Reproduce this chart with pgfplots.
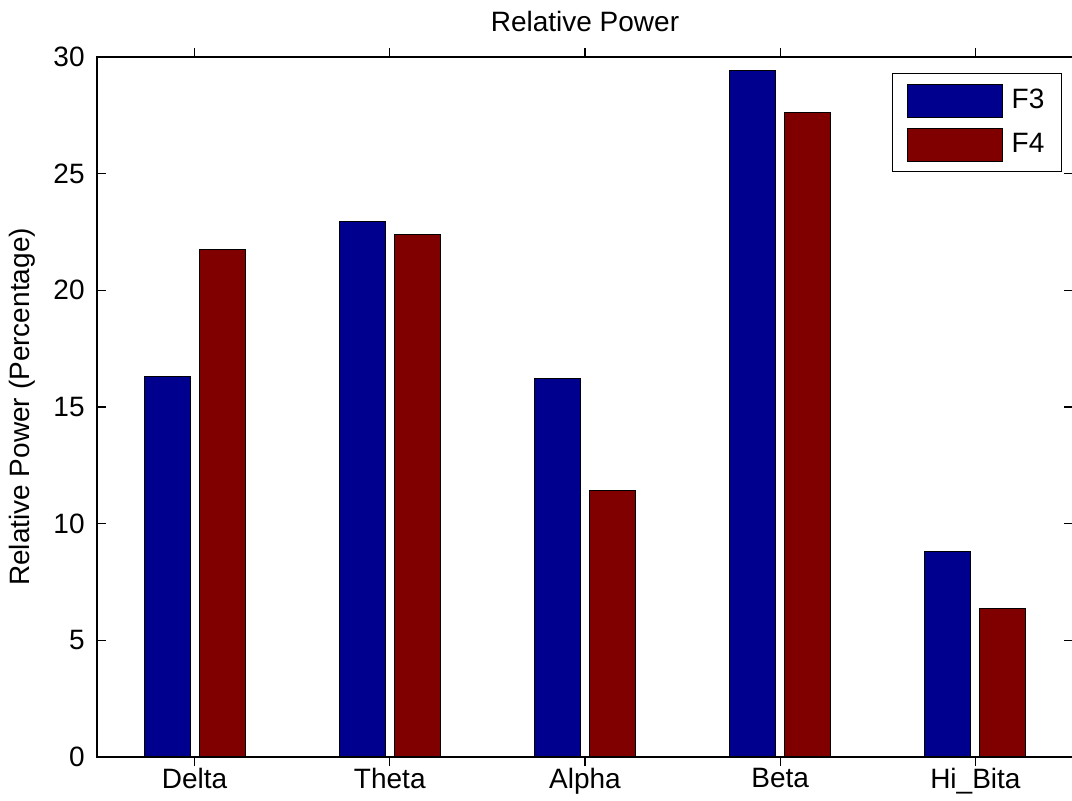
\documentclass[border=0pt]{standalone}
\usepackage{fontspec}
\setmainfont{Liberation Sans}
\usepackage{pgfplots}
\pgfplotsset{compat=1.18}
\definecolor{mblue}{rgb}{0,0,0.5625}
\definecolor{mred}{rgb}{0.5,0,0}
\begin{document}
\begin{tikzpicture}
\begin{axis}[
  scale only axis,
  width=488pt, height=350pt,
  xmin=0.5, xmax=5.5, ymin=0, ymax=30,
  xtick={1,2,3,4,5},
  xticklabels={Delta,Theta,Alpha,Beta,Hi\_Bita},
  ytick={0,5,10,15,20,25,30},
  tick align=inside,
  major tick length=4.5pt,
  tick style={black, line width=0.6pt},
  axis line style={line width=0.6pt},
  /pgf/number format/assume math mode=true,
  font=\fontsize{14}{16}\selectfont,
  yticklabel style={inner sep=0pt, xshift=-6pt},
  xticklabel style={inner sep=0pt, yshift=-1pt},
  title={Relative Power},
  title style={at={(axis description cs:0.5,1)}, anchor=base, yshift=6.5pt, inner sep=0pt},
  ylabel={Relative Power (Percentage)},
  ylabel style={at={(axis description cs:-0.0768,0.5)}, anchor=center, rotate=0},
  ybar=4.5pt,
  bar width=23pt,
  legend style={at={(axis description cs:1,1)}, anchor=north east, xshift=-5.5pt, yshift=-8pt,
    draw=black, line width=0.6pt, inner xsep=7pt, inner ysep=5pt, row sep=5pt, column sep=3pt,
    nodes={inner sep=1.5pt}},
  legend image code/.code={\draw[#1, line width=0.5pt] (0pt,-8.25pt) rectangle (47.5pt,8.25pt);},
]
\addplot[fill=mblue, draw=black, line width=0.5pt] coordinates {(1,16.29) (2,22.93) (3,16.2) (4,29.44) (5,8.8)};
\addplot[fill=mred, draw=black, line width=0.5pt] coordinates {(1,21.73) (2,22.41) (3,11.4) (4,27.64) (5,6.36)};
\legend{F3,F4}
\end{axis}
\pgfresetboundingbox
\path[use as bounding box] ([xshift=-48.5pt,yshift=-22pt]current axis.south west) rectangle ++(536pt,400.5pt);
\end{tikzpicture}
\end{document}
